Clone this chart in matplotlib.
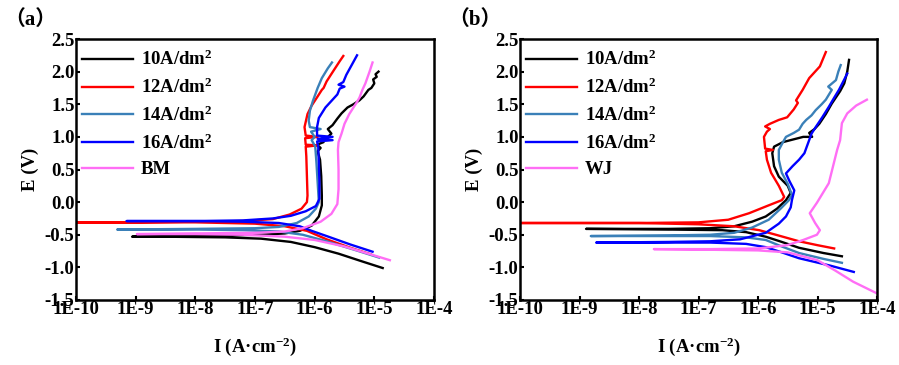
import matplotlib
matplotlib.use("Agg")
import matplotlib.pyplot as plt
import numpy as np
from matplotlib.ticker import FixedLocator, FixedFormatter, NullLocator

plt.rcParams['font.family'] = ['Liberation Serif', 'DejaVu Serif']
plt.rcParams['font.weight'] = 'bold'
plt.rcParams['mathtext.fontset'] = 'custom'
plt.rcParams['mathtext.rm'] = 'Liberation Serif:bold'
plt.rcParams['mathtext.it'] = 'Liberation Serif:bold:italic'
plt.rcParams['mathtext.bf'] = 'Liberation Serif:bold'
plt.rcParams['mathtext.default'] = 'rm'

# ---------------- data (log10 of current density, potential) ----------------
labels_a = ['10A/dm$^{2}$', '12A/dm$^{2}$', '14A/dm$^{2}$', '16A/dm$^{2}$', 'BM']
labels_b = ['10A/dm$^{2}$', '12A/dm$^{2}$', '14A/dm$^{2}$', '16A/dm$^{2}$', 'WJ']
colors = ['#000000', '#ff0000', '#3a80b8', '#0000ff', '#ff6ef5']

# Panel (a)
a10_logI = [-4.86, -5.2, -5.6, -6.0, -6.4, -6.9, -7.5, -8.5, -9.06,
            -8.5, -7.5, -6.9, -6.5, -6.25, -6.05, -5.93, -5.88, -5.88, -5.89, -5.91, -5.95, -5.90,
            -5.96, -5.85, -5.93, -5.80, -5.72, -5.78, -5.70, -5.62, -5.55, -5.45, -5.35, -5.25,
            -5.18, -5.10, -5.05, -5.00, -5.02, -4.96, -4.98, -4.93]
a10_E = [-1.01, -0.91, -0.79, -0.69, -0.61, -0.56, -0.54, -0.53, -0.53,
         -0.52, -0.51, -0.50, -0.48, -0.44, -0.36, -0.22, -0.05, 0.10, 0.40, 0.65, 0.78, 0.83,
         0.88, 0.92, 0.95, 0.98, 1.05, 1.12, 1.18, 1.28, 1.36, 1.45, 1.50, 1.56,
         1.62, 1.72, 1.75, 1.82, 1.88, 1.92, 1.96, 2.00]

a12_logI = [-5.06, -5.4, -5.8, -6.13, -6.5, -7.0, -8.0, -9.0, -10.0,
            -9.0, -8.0, -7.2, -6.7, -6.42, -6.22, -6.13, -6.12, -6.13, -6.14, -6.15, -5.95, -6.15,
            -6.16, -5.95, -6.15, -6.17, -6.12, -6.05, -5.95, -5.88, -5.85, -5.80, -5.68, -5.58, -5.52]
a12_E = [-0.80, -0.70, -0.57, -0.44, -0.37, -0.33, -0.31, -0.31, -0.31,
         -0.31, -0.30, -0.29, -0.26, -0.19, -0.10, 0.00, 0.10, 0.40, 0.70, 0.85, 0.87, 0.88,
         0.98, 1.00, 1.02, 1.15, 1.35, 1.48, 1.62, 1.72, 1.75, 1.85, 2.02, 2.16, 2.24]

a14_logI = [-4.92, -5.3, -5.8, -6.2, -6.6, -7.2, -8.0, -9.31,
            -8.0, -7.0, -6.6, -6.3, -6.1, -5.98, -5.93, -5.95, -5.97, -5.99, -6.05, -6.0,
            -6.06, -5.90, -6.08, -6.10, -6.08, -6.03, -5.95, -5.88, -5.78, -5.71]
a14_E = [-0.85, -0.74, -0.60, -0.50, -0.45, -0.43, -0.42, -0.42,
         -0.41, -0.40, -0.38, -0.32, -0.22, -0.10, 0.00, 0.30, 0.60, 0.85, 0.95, 1.00,
         1.08, 1.12, 1.15, 1.25, 1.40, 1.55, 1.75, 1.90, 2.05, 2.14]

a16_logI = [-5.03, -5.4, -5.8, -6.05, -6.25, -6.6, -7.2, -8.0, -9.15,
            -8.0, -7.2, -6.7, -6.4, -6.15, -5.98, -5.92, -5.92, -5.93, -5.94, -5.96, -5.70, -5.95,
            -5.70, -5.96, -5.96, -5.93, -5.82, -5.72, -5.62, -5.58, -5.50, -5.60, -5.52, -5.47,
            -5.38, -5.29]
a16_E = [-0.76, -0.65, -0.52, -0.44, -0.37, -0.32, -0.30, -0.29, -0.29,
         -0.29, -0.28, -0.25, -0.21, -0.14, -0.06, 0.05, 0.30, 0.60, 0.85, 0.93, 0.95, 0.97,
         1.00, 1.02, 1.15, 1.29, 1.45, 1.55, 1.65, 1.74, 1.77, 1.80, 1.84, 1.95,
         2.10, 2.25]

abm_logI = [-4.74, -5.1, -5.5, -6.0, -6.5, -7.2, -8.0, -8.98,
            -8.0, -7.0, -6.5, -6.2, -5.9, -5.72, -5.62, -5.60, -5.60, -5.61, -5.60, -5.55,
            -5.50, -5.42, -5.35, -5.30, -5.25, -5.20, -5.15, -5.08, -5.03]
abm_E = [-0.89, -0.79, -0.68, -0.58, -0.53, -0.50, -0.49, -0.49,
         -0.48, -0.47, -0.45, -0.40, -0.30, -0.18, -0.03, 0.20, 0.50, 0.80, 0.92, 1.05,
         1.20, 1.35, 1.45, 1.52, 1.60, 1.72, 1.82, 2.00, 2.14]

# Panel (b)
b10_logI = [-4.59, -4.9, -5.31, -5.6, -5.87, -6.2, -6.6, -7.5, -8.89,
            -7.5, -6.8, -6.4, -6.1, -5.87, -5.68, -5.53, -5.45, -5.50, -5.65, -5.73, -5.76,
            -5.73, -5.58, -5.24, -5.09, -5.14, -5.05, -4.97, -4.86, -4.76, -4.62, -4.55, -4.50,
            -4.47]
b10_E = [-0.83, -0.78, -0.70, -0.61, -0.53, -0.46, -0.43, -0.42, -0.41,
         -0.41, -0.40, -0.37, -0.30, -0.22, -0.10, 0.03, 0.14, 0.25, 0.39, 0.55, 0.75,
         0.85, 0.92, 1.00, 1.00, 1.06, 1.12, 1.20, 1.35, 1.51, 1.70, 1.82, 2.00,
         2.18]

b12_logI = [-4.72, -5.0, -5.31, -5.7, -5.98, -6.4, -7.0, -8.0, -10.0,
            -8.0, -7.0, -6.5, -6.15, -5.85, -5.60, -5.56, -5.65, -5.78, -5.85, -5.87, -5.75,
            -5.88, -5.90, -5.85, -5.80, -5.88, -5.80, -5.65, -5.51, -5.40, -5.33, -5.36, -5.25,
            -5.14, -4.96, -4.86]
b12_E = [-0.71, -0.66, -0.60, -0.50, -0.43, -0.37, -0.34, -0.32, -0.32,
         -0.32, -0.31, -0.27, -0.17, -0.06, 0.03, 0.08, 0.25, 0.45, 0.65, 0.78, 0.80,
         0.82, 1.00, 1.08, 1.12, 1.16, 1.20, 1.26, 1.30, 1.42, 1.52, 1.56, 1.72,
         1.90, 2.08, 2.30]

b14_logI = [-4.59, -4.9, -5.31, -5.6, -5.87, -6.2, -6.8, -8.81,
            -7.5, -6.8, -6.4, -6.1, -5.82, -5.62, -5.48, -5.43, -5.50, -5.60, -5.65, -5.65,
            -5.58, -5.53, -5.40, -5.31, -5.25, -5.19, -5.10, -5.03, -4.93, -4.86, -4.76, -4.82,
            -4.69, -4.65, -4.61]
b14_E = [-0.93, -0.87, -0.78, -0.68, -0.58, -0.54, -0.52, -0.52,
         -0.51, -0.50, -0.47, -0.39, -0.27, -0.10, 0.03, 0.11, 0.28, 0.45, 0.65, 0.80,
         0.92, 1.00, 1.06, 1.11, 1.20, 1.26, 1.33, 1.41, 1.50, 1.57, 1.72, 1.77,
         1.87, 2.00, 2.10]

b16_logI = [-4.39, -4.8, -5.31, -5.6, -5.87, -6.2, -6.8, -8.72,
            -7.5, -6.8, -6.3, -6.0, -5.87, -5.65, -5.53, -5.45, -5.43, -5.39, -5.47, -5.53,
            -5.42, -5.31, -5.22, -5.18, -5.14, -5.10, -5.03, -4.92, -4.81, -4.72, -4.64, -4.55,
            -4.50]
b16_E = [-1.07, -0.97, -0.86, -0.77, -0.69, -0.64, -0.62, -0.62,
         -0.61, -0.60, -0.57, -0.50, -0.47, -0.33, -0.22, -0.08, 0.03, 0.18, 0.32, 0.44,
         0.55, 0.65, 0.75, 0.85, 0.95, 1.05, 1.15, 1.30, 1.46, 1.60, 1.72, 1.88,
         1.97]

bwj_logI = [-4.02, -4.4, -4.7, -5.0, -5.5, -6.0, -6.8, -7.75,
            -6.8, -6.0, -5.51, -5.24, -5.01, -4.96, -5.04, -5.13, -5.01, -4.81, -4.67, -4.62,
            -4.59, -4.50, -4.35, -4.17]
bwj_E = [-1.39, -1.22, -1.05, -0.89, -0.77, -0.74, -0.73, -0.72,
         -0.72, -0.71, -0.66, -0.58, -0.50, -0.43, -0.32, -0.17, -0.01, 0.29, 0.80, 0.95,
         1.21, 1.36, 1.48, 1.57]

x_ticks = [1e-10, 1e-9, 1e-8, 1e-7, 1e-6, 1e-5, 1e-4]
x_ticklabels = ['1E-10', '1E-9', '1E-8', '1E-7', '1E-6', '1E-5', '1E-4']
y_ticks = [-1.5, -1.0, -0.5, 0.0, 0.5, 1.0, 1.5, 2.0, 2.5]
y_ticklabels = ['-1.5', '-1.0', '-0.5', '0.0', '0.5', '1.0', '1.5', '2.0', '2.5']

series_a = [(a10_logI, a10_E), (a12_logI, a12_E), (a14_logI, a14_E), (a16_logI, a16_E), (abm_logI, abm_E)]
series_b = [(b10_logI, b10_E), (b12_logI, b12_E), (b14_logI, b14_E), (b16_logI, b16_E), (bwj_logI, bwj_E)]

fig = plt.figure(figsize=(8.99, 3.65), dpi=100)
ax_a = fig.add_axes([76/899, 1-300/365, 358/899, 261/365])
ax_b = fig.add_axes([520/899, 1-300/365, 357/899, 261/365])

for ax, series, labels, tag in [(ax_a, series_a, labels_a, '（a）'), (ax_b, series_b, labels_b, '（b）')]:
    for (li, e), c, lab in zip(series, colors, labels):
        ax.plot(10 ** np.array(li), e, color=c, lw=1.7, label=lab)
    ax.set_xscale('log')
    ax.set_xlim(1e-10, 1e-4)
    ax.set_ylim(-1.5, 2.5)
    ax.xaxis.set_major_locator(FixedLocator(x_ticks))
    ax.xaxis.set_major_formatter(FixedFormatter(x_ticklabels))
    ax.xaxis.set_minor_locator(NullLocator())
    ax.yaxis.set_major_locator(FixedLocator(y_ticks))
    ax.yaxis.set_major_formatter(FixedFormatter(y_ticklabels))
    ax.tick_params(direction='in', length=3, width=1.5, labelsize=13.5, pad=1)
    for lbl in ax.get_xticklabels() + ax.get_yticklabels():
        lbl.set_fontweight('bold')
    for sp in ax.spines.values():
        sp.set_linewidth(1.8)
    ax.set_xlabel('I (A·cm$^{-2}$)', fontsize=13.5, fontweight='bold', labelpad=12)
    ax.set_ylabel('E (V)', fontsize=13.5, fontweight='bold', labelpad=4)
    leg = ax.legend(loc='upper left', bbox_to_anchor=(0.0, 0.98), frameon=False,
                    handlelength=2.75, handletextpad=0.4, labelspacing=0.45,
                    borderpad=0.15, borderaxespad=0.15, prop={'weight': 'bold', 'size': 13.5})
    pos = ax.get_position()
    fig.text(pos.x0 - 72/899, 0.945, tag, fontsize=15, fontweight='bold',
             family=['Liberation Serif', 'Noto Sans CJK SC'], va='center', ha='left')

fig.savefig('out.png', dpi=100)
